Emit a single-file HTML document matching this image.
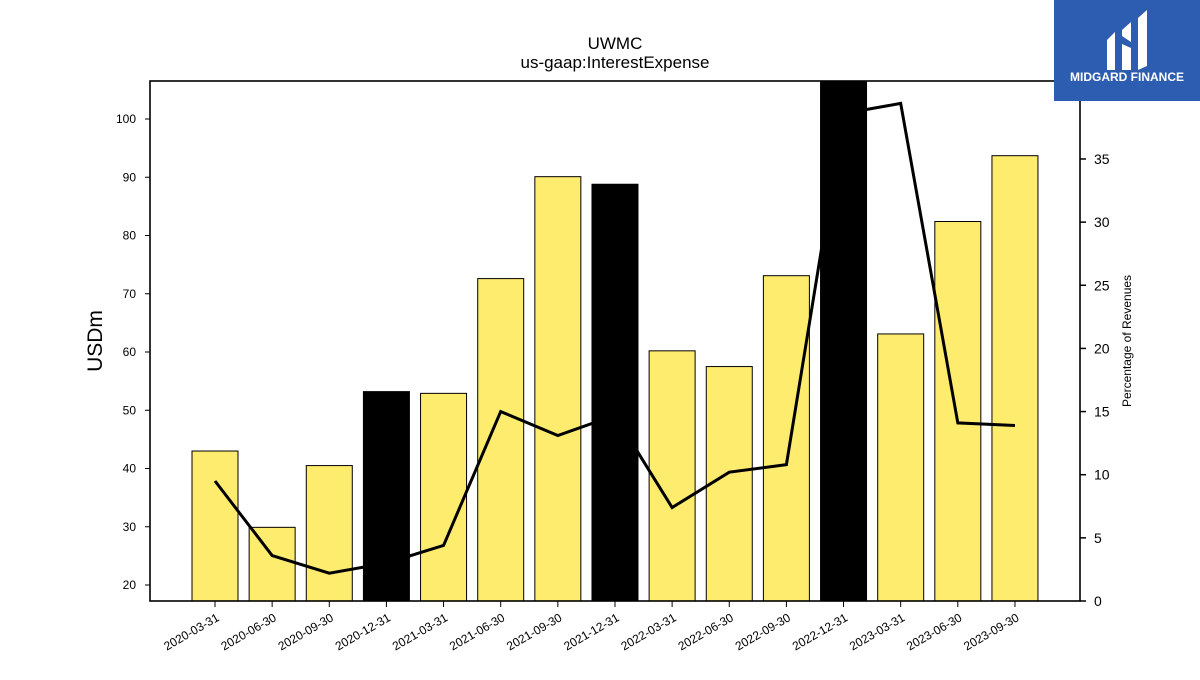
<!DOCTYPE html>
<html><head><meta charset="utf-8"><style>
body{margin:0;background:#fff;}
svg text{font-family:"Liberation Sans","DejaVu Sans",sans-serif;}
</style></head><body>
<svg width="1200" height="675" xmlns="http://www.w3.org/2000/svg" id="chart">
<text x="615" y="49" text-anchor="middle" font-size="17">UWMC</text>
<text x="615" y="68" text-anchor="middle" font-size="17">us-gaap:InterestExpense</text>
<g id="plot"></g>
<text transform="translate(102,341) rotate(-90)" text-anchor="middle" font-size="21">USDm</text>
<text transform="translate(1131,341) rotate(-90)" text-anchor="middle" font-size="12">Percentage of Revenues</text>
<g>
<rect x="1054" y="0" width="146" height="101" fill="#2d5db0"/>
<path d="M1107 40 L1115 32 L1115 70 L1107 70 Z M1122 30 L1131 22 L1131 42 L1122 36 Z M1122 44 L1131 48 L1131 70 L1122 70 Z M1138 18 L1147 10 L1147 66 L1138 70 Z" fill="#fff"/>
<text x="1127" y="81" text-anchor="middle" font-size="12" font-weight="bold" fill="#fff">MIDGARD FINANCE</text>
</g>
</svg>
<script>
const categories=["2020-03-31","2020-06-30","2020-09-30","2020-12-31","2021-03-31","2021-06-30","2021-09-30","2021-12-31","2022-03-31","2022-06-30","2022-09-30","2022-12-31","2023-03-31","2023-06-30","2023-09-30"];
const interestExpense=[43.0,29.9,40.5,53.2,52.9,72.6,90.1,88.8,60.2,57.5,73.1,112,63.1,82.4,93.7];
const pctRevenue=[9.5,3.6,2.2,3.0,4.4,15.0,13.1,14.7,7.4,10.2,10.8,38.6,39.4,14.1,13.9];
const leftTicks=[20,30,40,50,60,70,80,90,100];
const rightTicks=[0,5,10,15,20,25,30,35];
const NS="http://www.w3.org/2000/svg";
const L=150,R=1080,T=81,B=601;
const yL=v=>585-(v-20)*5.825;
const yR=v=>601-v*12.629;
const xC=i=>215+i*57.14;
const isQ4=c=>c.endsWith("12-31");
const g=document.getElementById("plot");
function mk(t,a,p){const e=document.createElementNS(NS,t);for(const k in a)e.setAttribute(k,a[k]);(p||g).appendChild(e);return e;}
const clip=mk("clipPath",{id:"pc"});mk("rect",{x:L,y:T,width:R-L,height:B-T},clip);
const bw=46;
function bar(i){const v=interestExpense[i];const y=Math.max(yL(v),T-5);
const r=mk("rect",{x:xC(i)-bw/2,y:y,width:bw,height:B-y,fill:isQ4(categories[i])?"#000":"#feec6f",stroke:"#000","stroke-width":1,"clip-path":"url(#pc)"});

}
categories.forEach((c,i)=>{if(!isQ4(c))bar(i);});
const line=mk("polyline",{points:pctRevenue.map((v,i)=>xC(i)+","+yR(v)).join(" "),fill:"none",stroke:"#000","stroke-width":3,"clip-path":"url(#pc)"});


categories.forEach((c,i)=>{if(isQ4(c))bar(i);});
const fr=mk("rect",{x:L,y:T,width:R-L,height:B-T,fill:"none",stroke:"#000","stroke-width":1.6});


leftTicks.forEach(v=>{const y=yL(v);mk("line",{x1:L-5,x2:L,y1:y,y2:y,stroke:"#000"});
const t=mk("text",{x:L-14,y:y+4,"text-anchor":"end","font-size":12});t.textContent=v;

});
rightTicks.forEach(v=>{const y=yR(v);mk("line",{x1:R,x2:R+6,y1:y,y2:y,stroke:"#000","stroke-width":1.5});
const t=mk("text",{x:R+14,y:y+5,"font-size":14});t.textContent=v;

});
categories.forEach((c,i)=>{const x=xC(i);mk("line",{x1:x,x2:x,y1:B,y2:B+6,stroke:"#000"});
const t=mk("text",{transform:`translate(${x+5},${B+19}) rotate(-30)`,"text-anchor":"end","font-size":12});t.textContent=c;

});
</script>
</body></html>
